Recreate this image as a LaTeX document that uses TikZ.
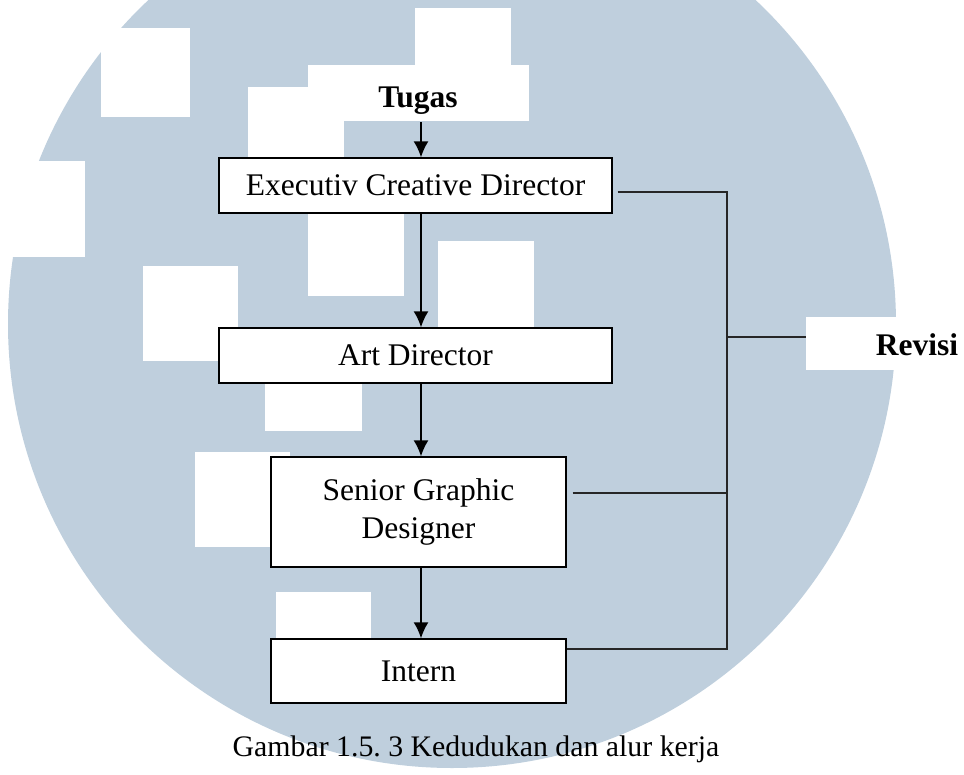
\documentclass[tikz,border=0pt]{standalone}
\usepackage{fontspec}
\setmainfont{Liberation Serif}
\usetikzlibrary{calc,arrows.meta}
\definecolor{wm}{RGB}{191,207,221}
\frenchspacing
\begin{document}
\begin{tikzpicture}[x=1pt,y=-1pt,
  box/.style={draw=black,line width=1.3pt,fill=white,rectangle,inner sep=0pt,font=\fontsize{31.5}{38}\selectfont,align=center},
  wbox/.style={fill=white,draw=none,rectangle,inner sep=0pt},
  lbl/.style={font=\bfseries\fontsize{31.5}{38}\selectfont,anchor=base,inner xsep=0pt,inner ysep=8pt},
  arr/.style={line width=1.8pt,-{Latex[length=16pt,width=15pt]}},
  link/.style={line width=1.2pt,draw=black!85}]
\useasboundingbox (0,0) rectangle (964,774);
\clip (0,0) rectangle (964,774);
% watermark
\fill[wm] (452,324) circle (444pt);
\fill[white] (101,28) rectangle (190,117);
\fill[white] (415,8) rectangle (511,65);
\fill[white] (308,65) rectangle (529,121);
\fill[white] (248,87) rectangle (344,158);
\fill[white] (308,205) rectangle (404,296);
\fill[white] (438,241) rectangle (534,330);
\fill[white] (143,266) rectangle (238,361);
\fill[white] (0,161) rectangle (85,257);
\fill[white] (265,375) rectangle (362,431);
\fill[white] (195,452) rectangle (290,547);
\fill[white] (276,592) rectangle (371,645);
\node[wbox,minimum width=158pt,minimum height=53pt] (revbox) at (885,343.5) {};
% boxes
\node[box,minimum width=393pt,minimum height=55pt] (exec) at (415.5,185.5) {Executiv Creative Director};
\node[box,minimum width=393pt,minimum height=55pt] (art) at (415.5,355.5) {Art Director};
\node[box,minimum width=295pt,minimum height=110pt] (senior) at (418.5,512) {Senior Graphic\\Designer};
\node[box,minimum width=295pt,minimum height=64pt] (intern) at (418.5,671) {Intern};
\node[lbl] (tugas) at (418,107) {Tugas};
\node[lbl] (revisi) at (917,355) {Revisi};
\node[font=\fontsize{29.8}{36}\selectfont,anchor=base,inner sep=0pt] (caption) at (476,756) {Gambar 1.5. 3 Kedudukan dan alur kerja};
% arrows
\coordinate (col) at (421,0);
\draw[arr] (tugas.south -| col) -- (exec.north -| col);
\draw[arr] (exec.south -| col) -- (art.north -| col);
\draw[arr] (art.south -| col) -- (senior.north -| col);
\draw[arr] (senior.south -| col) -- (intern.north -| col);
% revision lines
\coordinate (bus) at (727,0);
\coordinate (ra) at ($(exec.east)+(5,6.5)$);
\coordinate (rd) at ($(intern.east)+(0,-22)$);
\coordinate (rc) at ($(senior.east)+(6,-19)$);
\coordinate (rr) at ($(revbox.west)+(0,-6.5)$);
\draw[link] (ra) -| (bus |- rd) -- (rd);
\draw[link] (rc) -- (rc -| bus);
\draw[link] (rr) -- (rr -| bus);
\end{tikzpicture}
\end{document}
